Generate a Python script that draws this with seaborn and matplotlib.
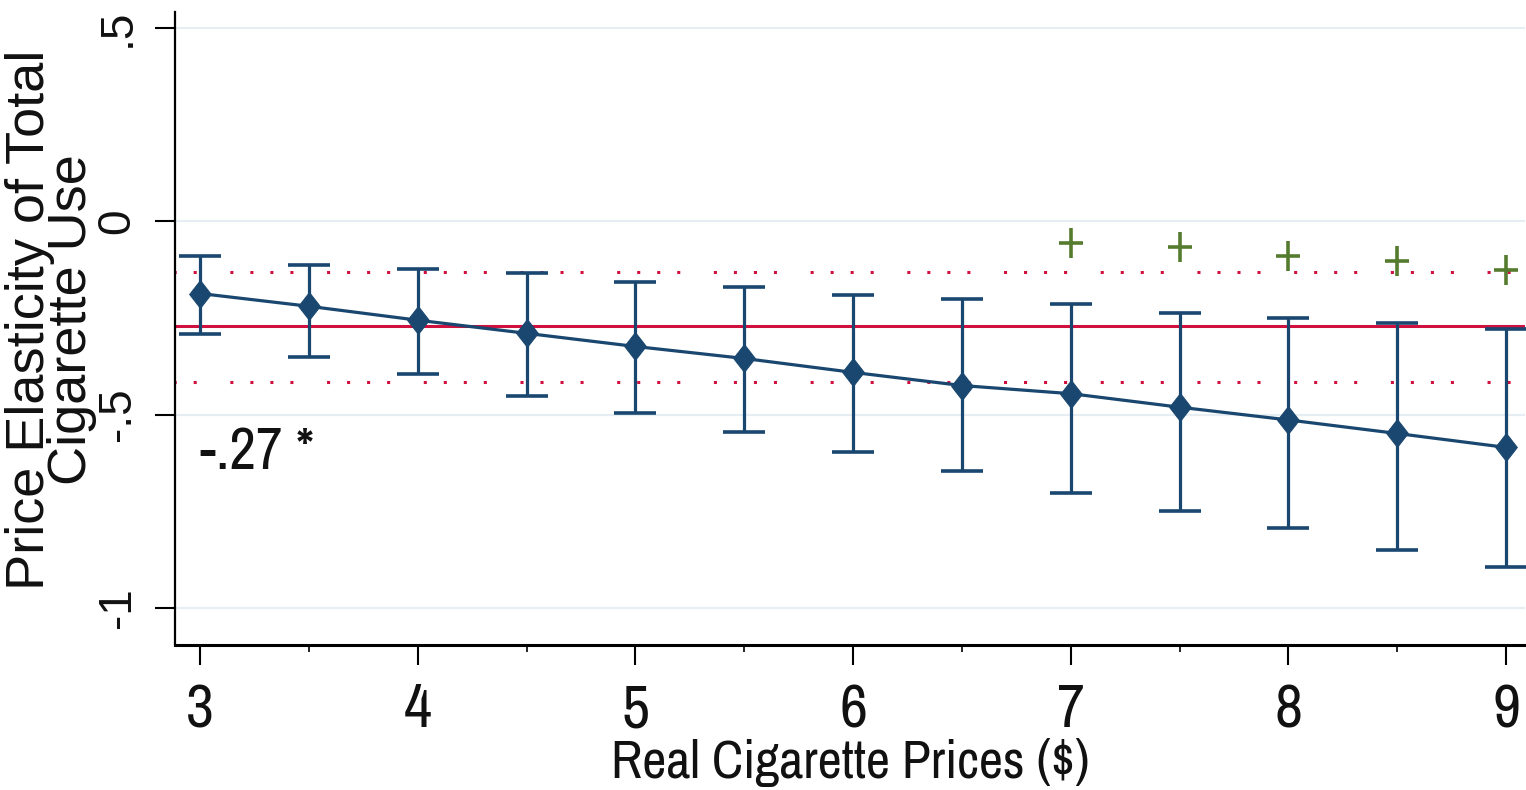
import numpy as np
import pandas as pd
import matplotlib
matplotlib.use('Agg')
import matplotlib.pyplot as plt
import seaborn as sns
from matplotlib.path import Path
from matplotlib.ticker import MultipleLocator, FixedLocator

# price points and estimated elasticities (with 95% CI)
prices = [3, 3.5, 4, 4.5, 5, 5.5, 6, 6.5, 7, 7.5, 8, 8.5, 9]
elasticity = [-0.187, -0.220, -0.256, -0.290, -0.324, -0.355, -0.391,
              -0.425, -0.446, -0.481, -0.514, -0.549, -0.585]
ci_upper = [-0.091, -0.114, -0.124, -0.135, -0.158, -0.171, -0.192,
            -0.202, -0.215, -0.238, -0.251, -0.262, -0.279]
ci_lower = [-0.293, -0.352, -0.396, -0.453, -0.495, -0.544, -0.598,
            -0.645, -0.702, -0.749, -0.793, -0.850, -0.894]

# second set of estimates, shown as "+" at the high prices
plus_prices = [7, 7.5, 8, 8.5, 9]
plus_values = [-0.057, -0.067, -0.091, -0.104, -0.127]

# average elasticity and its CI
avg_elasticity = -0.27
avg_ci = [-0.132, -0.417]
avg_label = "-.27 *"

y_ticks = [0.5, 0, -0.5, -1]
y_ticklabels = [".5", "0", "-.5", "-1"]

navy = "#1a476f"
red = "#d0103e"
green = "#557c2e"

df = pd.DataFrame({"price": prices, "elasticity": elasticity,
                   "lo": ci_lower, "hi": ci_upper})

sns.set_theme(style="white")
narrow = ["Archivo Narrow", "DejaVu Sans"]
regular = ["Liberation Sans", "DejaVu Sans"]
plt.rcParams["font.family"] = regular

W, H = 1526, 790
fig = plt.figure(figsize=(W / 100, H / 100), dpi=100)
ax = fig.add_axes([175 / W, 1 - 645 / H, 1350 / W, 633 / H])

# grid lines at the y ticks
for yv in y_ticks:
    ax.axhline(yv, color="#e6edf3", lw=1.6, zorder=0)

# average line and its CI (dotted)
ax.axhline(avg_elasticity, color=red, lw=2.2, zorder=1)
dash = (13.7, (1, 5.55, 1, 5.55, 1, 5.55, 1, 11.0))
for yv in avg_ci:
    ax.axhline(yv, color=red, lw=2.2, linestyle=dash, zorder=1)

# error bars
ax.errorbar(df["price"], df["elasticity"],
            yerr=[df["elasticity"] - df["lo"], df["hi"] - df["elasticity"]],
            fmt="none", ecolor=navy, elinewidth=2.3, capsize=15, capthick=2.6,
            zorder=2)

diamond = [(0, 1), (0.78, 0), (0, -1), (-0.78, 0), (0, 1)]
sns.lineplot(data=df, x="price", y="elasticity", ax=ax, color=navy, lw=2.3,
             marker=diamond, markersize=20, markeredgecolor=navy, zorder=3)

plus = Path([(-0.76, 0), (0.76, 0), (0, -1), (0, 1)],
            [Path.MOVETO, Path.LINETO, Path.MOVETO, Path.LINETO])
sns.lineplot(x=plus_prices, y=plus_values, ax=ax, linestyle="none",
             marker=plus, markersize=22, markeredgewidth=2.6,
             markeredgecolor=green, markerfacecolor="none", color=green,
             zorder=4)

ax.text(3.0, -0.598, avg_label, ha="left", va="center", fontsize=42,
        family=narrow, color="#111111")

ax.set_xlim(2.885, 9.087)
ax.set_ylim(-1.096, 0.541)

ax.xaxis.set_major_locator(MultipleLocator(1))
ax.xaxis.set_minor_locator(MultipleLocator(0.5))
ax.yaxis.set_major_locator(FixedLocator(y_ticks))
ax.set_yticklabels(y_ticklabels)

for s in ["top", "right"]:
    ax.spines[s].set_visible(False)
ax.spines["left"].set_color("black")
ax.spines["left"].set_linewidth(1.6)
ax.spines["bottom"].set_color("black")
ax.spines["bottom"].set_linewidth(2.2)

ax.tick_params(axis="x", which="major", length=14.4, width=1.5, pad=13,
               bottom=True, color="black", labelsize=44, labelcolor="#111111")
ax.tick_params(axis="x", which="minor", length=5, width=1.2, bottom=True,
               color="black")
ax.tick_params(axis="y", which="major", length=14.4, width=1.5, pad=11,
               left=True, color="black", labelsize=33, labelcolor="#111111")
for lab in ax.get_xticklabels():
    lab.set_family(narrow)
for lab in ax.get_yticklabels():
    lab.set_rotation(90)
    lab.set_va("center")

ax.set_xlabel("Real Cigarette Prices ($)", fontsize=38, family=narrow,
              color="#111111", labelpad=0)
ax.set_ylabel("Price Elasticity of Total\nCigarette Use", fontsize=39,
              color="#111111", linespacing=0.8, va="center")
ax.yaxis.set_label_coords((51 - 175) / 1350, (645 - 320) / 633)

fig.savefig("out.png", dpi=100)
